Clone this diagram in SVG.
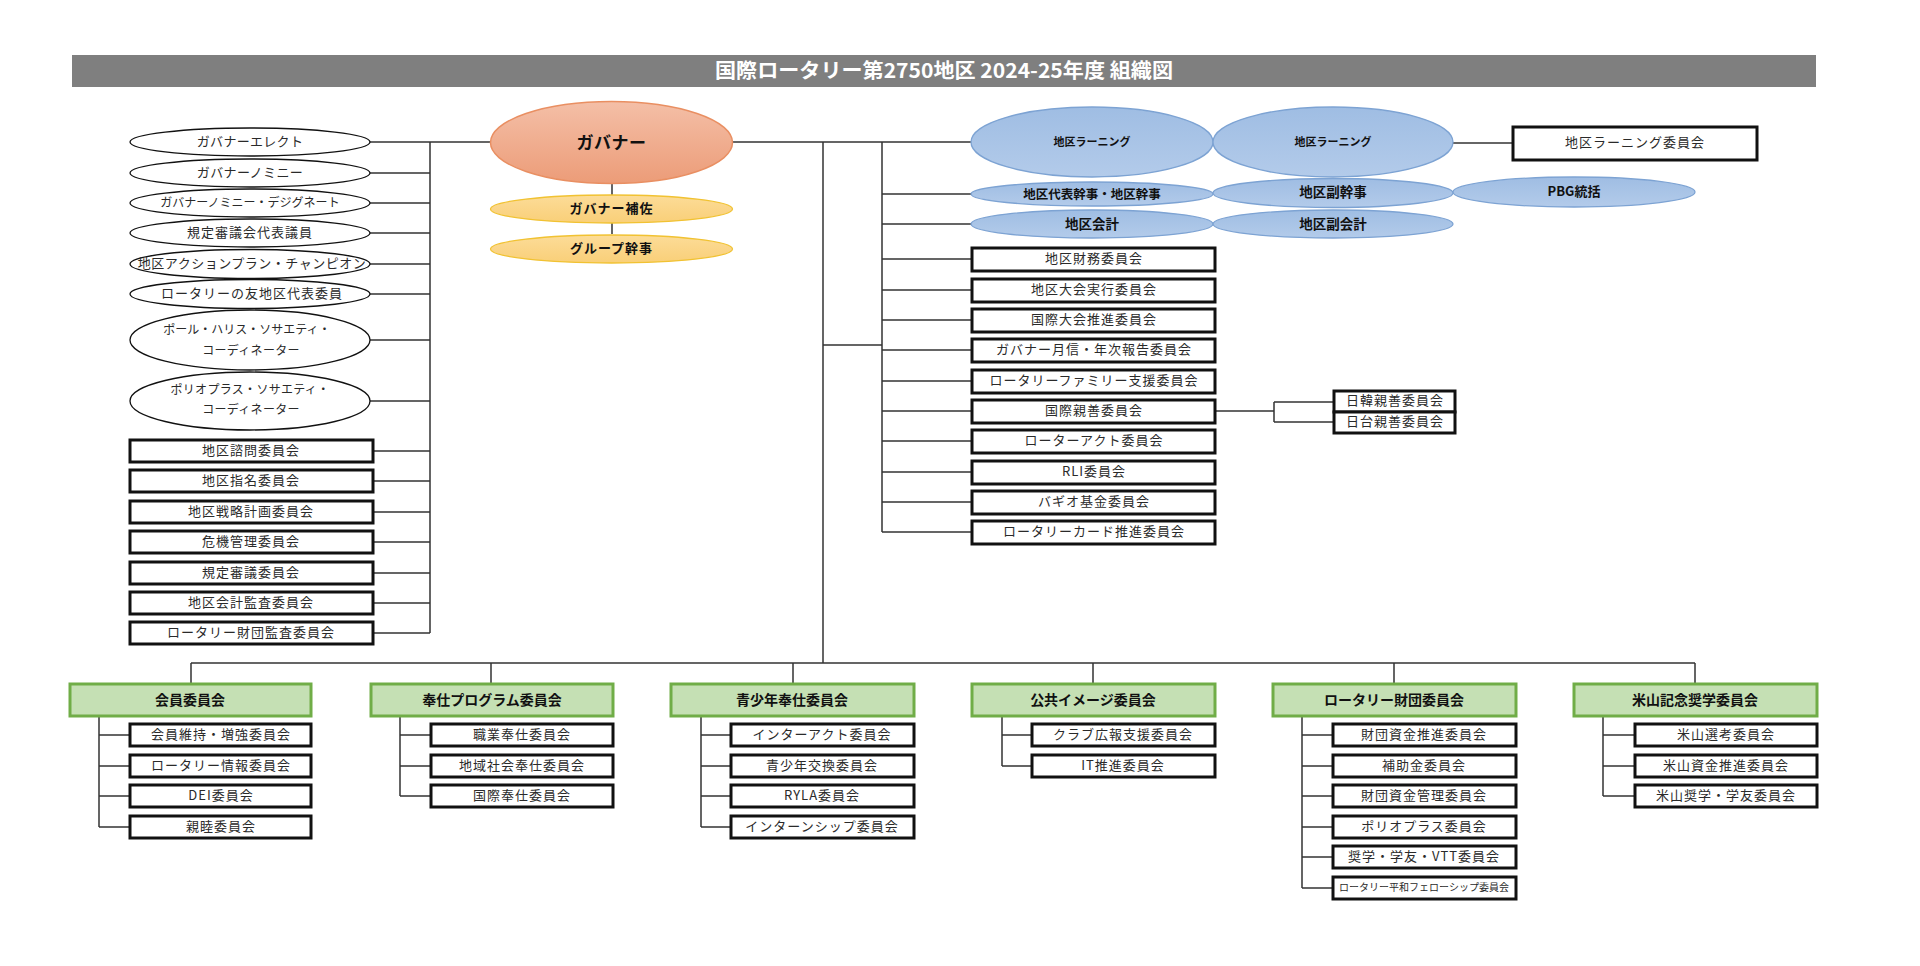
<svg xmlns="http://www.w3.org/2000/svg" width="1920" height="966" viewBox="0 0 1920 966">
<defs>
<linearGradient id="gGov" x1="0" y1="0" x2="0" y2="1"><stop offset="0" stop-color="#F4BFA7"/><stop offset="1" stop-color="#EC9C78"/></linearGradient>
<linearGradient id="gYel" x1="0" y1="0" x2="0" y2="1"><stop offset="0" stop-color="#FCDC98"/><stop offset="1" stop-color="#F9CF78"/></linearGradient>
<linearGradient id="gBlu" x1="0" y1="0" x2="0" y2="1"><stop offset="0" stop-color="#9FBDE3"/><stop offset="1" stop-color="#B3CBEA"/></linearGradient>
<style>
text{font-family:"Noto Sans CJK JP","Noto Sans",sans-serif;text-anchor:middle;dominant-baseline:central;transform:translateY(-1.5px)}
.wl{fill:#fff;stroke:#111;stroke-width:1.3}
.bx{fill:#fff;stroke:#111;stroke-width:3}
.hd{fill:#C5E0B4;stroke:#70AD47;stroke-width:3}
.bl{fill:url(#gBlu);stroke:#7DA3D3;stroke-width:1.3}
.yl{fill:url(#gYel);stroke:#F1C232;stroke-width:1.3}
.t{font-size:13px;letter-spacing:1px;fill:#2a2a2a}
.t12{font-size:12px;fill:#2a2a2a}
.t10{font-size:10px;fill:#2a2a2a}
.b{font-weight:bold;fill:#111}
.cn{fill:none;stroke:#333;stroke-width:1.5}
</style>
</defs>
<rect width="1920" height="966" fill="#fff"/>

<g id="title">
<rect x="72" y="55" width="1744" height="32" fill="#7F7F7F"/>
<text x="944" y="71" font-size="20" font-weight="bold" fill="#fff" textLength="458" lengthAdjust="spacingAndGlyphs">国際ロータリー第2750地区 2024-25年度 組織図</text>
</g>

<g id="connectors" class="cn">
<path d="M370 142H491M430 142V633"/>
<path d="M370 173H430M370 203H430M370 233H430M370 264H430M370 294H430M370 340H430M370 401H430"/>
<path d="M373 451H430M373 481H430M373 512H430M373 542H430M373 573H430M373 603H430M373 633H430"/>
<path d="M612 183V234"/>
<path d="M732 142H972M882 142V532M823 142V663M823 345H882"/>
<path d="M882 194H972M882 224H972M882 259H972M882 290H972M882 320H972M882 350H972M882 381H972M882 411H972M882 441H972M882 472H972M882 502H972M882 532H972"/>
<path d="M1453 143H1513"/>
<path d="M1216 411H1274M1274 402V422M1274 402H1334M1274 422H1334"/>
<path d="M191 663H1695M191 663V684M491 663V684M793 663V684M1093 663V684M1394 663V684M1695 663V684"/>
<path d="M99 716V827M99 735H130M99 766H130M99 796H130M99 827H130"/>
<path d="M400 716V796M400 735H431M400 766H431M400 796H431"/>
<path d="M701 716V827M701 735H731M701 766H731M701 796H731M701 827H731"/>
<path d="M1002 716V766M1002 735H1032M1002 766H1032"/>
<path d="M1302 716V888M1302 735H1333M1302 766H1333M1302 796H1333M1302 827H1333M1302 857H1333M1302 888H1333"/>
<path d="M1603 716V796M1603 735H1635M1603 766H1635M1603 796H1635"/>
</g>

<g id="gov">
<ellipse cx="611.5" cy="142.5" rx="121" ry="41" fill="url(#gGov)" stroke="#E98F62" stroke-width="1.5"/>
<text x="611.5" y="143" font-size="17" class="b" letter-spacing="0.5">ガバナー</text>
</g>
<g id="gov-assist">
<ellipse cx="611.5" cy="209" rx="121" ry="14" class="yl"/>
<text x="611.5" y="209" font-size="13" class="b" letter-spacing="1">ガバナー補佐</text>
</g>
<g id="group-sec">
<ellipse cx="611.5" cy="249" rx="121" ry="14" class="yl"/>
<text x="611.5" y="249" font-size="13" class="b" letter-spacing="1">グループ幹事</text>
</g>

<g id="l-e1"><ellipse cx="250" cy="142" rx="120" ry="14" class="wl"/><text x="250" y="142" class="t" style="letter-spacing:0.3px">ガバナーエレクト</text></g>
<g id="l-e2"><ellipse cx="250" cy="173" rx="120" ry="14" class="wl"/><text x="250" y="173" class="t" style="letter-spacing:0.4px">ガバナーノミニー</text></g>
<g id="l-e3"><ellipse cx="250" cy="203" rx="120" ry="14" class="wl"/><text x="250" y="203" class="t12">ガバナーノミニー・デジグネート</text></g>
<g id="l-e4"><ellipse cx="250" cy="233" rx="120" ry="14" class="wl"/><text x="250" y="233" class="t">規定審議会代表議員</text></g>
<g id="l-e5"><ellipse cx="250" cy="264" rx="120" ry="14.5" class="wl"/><text x="252" y="264" class="t" style="letter-spacing:0.5px">地区アクションプラン・チャンピオン</text></g>
<g id="l-e6"><ellipse cx="250" cy="294" rx="120" ry="14.5" class="wl"/><text x="252" y="294" class="t">ロータリーの友地区代表委員</text></g>
<g id="l-e7"><ellipse cx="250" cy="340" rx="120" ry="30" class="wl"/><text x="247" y="330" class="t12">ポール・ハリス・ソサエティ・</text><text x="251" y="351" class="t12" style="letter-spacing:0.3px">コーディネーター</text></g>
<g id="l-e8"><ellipse cx="250" cy="401" rx="120" ry="29" class="wl"/><text x="250" y="390" class="t12" style="letter-spacing:0.3px">ポリオプラス・ソサエティ・</text><text x="251" y="410" class="t12" style="letter-spacing:0.3px">コーディネーター</text></g>

<g id="l-r1"><rect x="130" y="440" width="243" height="22" class="bx"/><text x="251" y="451" class="t">地区諮問委員会</text></g>
<g id="l-r2"><rect x="130" y="470" width="243" height="22" class="bx"/><text x="251" y="481" class="t">地区指名委員会</text></g>
<g id="l-r3"><rect x="130" y="501" width="243" height="22" class="bx"/><text x="251" y="512" class="t">地区戦略計画委員会</text></g>
<g id="l-r4"><rect x="130" y="531" width="243" height="22" class="bx"/><text x="251" y="542" class="t">危機管理委員会</text></g>
<g id="l-r5"><rect x="130" y="562" width="243" height="22" class="bx"/><text x="251" y="573" class="t">規定審議委員会</text></g>
<g id="l-r6"><rect x="130" y="592" width="243" height="22" class="bx"/><text x="251" y="603" class="t">地区会計監査委員会</text></g>
<g id="l-r7"><rect x="130" y="622" width="243" height="22" class="bx"/><text x="251" y="633" class="t">ロータリー財団監査委員会</text></g>

<g id="r-learn1"><ellipse cx="1092" cy="142" rx="121" ry="35" class="bl"/><text x="1092" y="142" font-size="11" class="b">地区ラーニング</text></g>
<g id="r-learn2"><ellipse cx="1333" cy="142" rx="120" ry="35" class="bl"/><text x="1333" y="142" font-size="11" class="b">地区ラーニング</text></g>
<g id="r-learn-com"><rect x="1513" y="127" width="244" height="33" class="bx"/><text x="1635" y="143" class="t">地区ラーニング委員会</text></g>
<g id="r-sec"><ellipse cx="1092" cy="194" rx="121" ry="12" class="bl"/><text x="1092" y="195" font-size="12.5" class="b">地区代表幹事・地区幹事</text></g>
<g id="r-vsec"><ellipse cx="1333" cy="193" rx="120" ry="14.5" class="bl"/><text x="1333" y="192" font-size="13.5" class="b">地区副幹事</text></g>
<g id="r-pbg"><ellipse cx="1574" cy="192" rx="121" ry="15" class="bl"/><text x="1574" y="192" font-size="13" class="b">PBG統括</text></g>
<g id="r-acc"><ellipse cx="1092" cy="224" rx="121" ry="14" class="bl"/><text x="1092" y="224" font-size="13.5" class="b">地区会計</text></g>
<g id="r-vacc"><ellipse cx="1333" cy="224" rx="120" ry="14" class="bl"/><text x="1333" y="224" font-size="13.5" class="b">地区副会計</text></g>

<g id="r-1"><rect x="972" y="248" width="243" height="23" class="bx"/><text x="1094" y="259" class="t">地区財務委員会</text></g>
<g id="r-2"><rect x="972" y="279" width="243" height="23" class="bx"/><text x="1094" y="290" class="t">地区大会実行委員会</text></g>
<g id="r-3"><rect x="972" y="309" width="243" height="23" class="bx"/><text x="1094" y="320" class="t">国際大会推進委員会</text></g>
<g id="r-4"><rect x="972" y="339" width="243" height="23" class="bx"/><text x="1094" y="350" class="t">ガバナー月信・年次報告委員会</text></g>
<g id="r-5"><rect x="972" y="370" width="243" height="23" class="bx"/><text x="1094" y="381" class="t">ロータリーファミリー支援委員会</text></g>
<g id="r-6"><rect x="972" y="400" width="243" height="23" class="bx"/><text x="1094" y="411" class="t">国際親善委員会</text></g>
<g id="r-7"><rect x="972" y="430" width="243" height="23" class="bx"/><text x="1094" y="441" class="t">ローターアクト委員会</text></g>
<g id="r-8"><rect x="972" y="461" width="243" height="23" class="bx"/><text x="1094" y="472" class="t">RLI委員会</text></g>
<g id="r-9"><rect x="972" y="491" width="243" height="23" class="bx"/><text x="1094" y="502" class="t">バギオ基金委員会</text></g>
<g id="r-10"><rect x="972" y="521" width="243" height="23" class="bx"/><text x="1094" y="532" class="t">ロータリーカード推進委員会</text></g>
<g id="r-jk"><rect x="1334" y="391" width="121" height="21" class="bx"/><text x="1395" y="401" class="t">日韓親善委員会</text></g>
<g id="r-jt"><rect x="1334" y="412" width="121" height="21" class="bx"/><text x="1395" y="422" class="t">日台親善委員会</text></g>

<g id="g1">
<rect x="70" y="684" width="241" height="32" class="hd"/><text x="190" y="700" font-size="14" class="b">会員委員会</text>
<rect x="130" y="724" width="181" height="22" class="bx"/><text x="221" y="735" class="t">会員維持・増強委員会</text>
<rect x="130" y="755" width="181" height="22" class="bx"/><text x="221" y="766" class="t">ロータリー情報委員会</text>
<rect x="130" y="785" width="181" height="22" class="bx"/><text x="221" y="796" class="t">DEI委員会</text>
<rect x="130" y="816" width="181" height="22" class="bx"/><text x="221" y="827" class="t">親睦委員会</text>
</g>
<g id="g2">
<rect x="371" y="684" width="242" height="32" class="hd"/><text x="492" y="700" font-size="14" class="b">奉仕プログラム委員会</text>
<rect x="431" y="724" width="182" height="22" class="bx"/><text x="522" y="735" class="t">職業奉仕委員会</text>
<rect x="431" y="755" width="182" height="22" class="bx"/><text x="522" y="766" class="t">地域社会奉仕委員会</text>
<rect x="431" y="785" width="182" height="22" class="bx"/><text x="522" y="796" class="t">国際奉仕委員会</text>
</g>
<g id="g3">
<rect x="671" y="684" width="243" height="32" class="hd"/><text x="792" y="700" font-size="14" class="b">青少年奉仕委員会</text>
<rect x="731" y="724" width="183" height="22" class="bx"/><text x="822" y="735" class="t">インターアクト委員会</text>
<rect x="731" y="755" width="183" height="22" class="bx"/><text x="822" y="766" class="t">青少年交換委員会</text>
<rect x="731" y="785" width="183" height="22" class="bx"/><text x="822" y="796" class="t">RYLA委員会</text>
<rect x="731" y="816" width="183" height="22" class="bx"/><text x="822" y="827" class="t">インターンシップ委員会</text>
</g>
<g id="g4">
<rect x="972" y="684" width="243" height="32" class="hd"/><text x="1093" y="700" font-size="14" class="b">公共イメージ委員会</text>
<rect x="1032" y="724" width="183" height="22" class="bx"/><text x="1123" y="735" class="t">クラブ広報支援委員会</text>
<rect x="1032" y="755" width="183" height="22" class="bx"/><text x="1123" y="766" class="t">IT推進委員会</text>
</g>
<g id="g5">
<rect x="1273" y="684" width="243" height="32" class="hd"/><text x="1394" y="700" font-size="14" class="b">ロータリー財団委員会</text>
<rect x="1333" y="724" width="183" height="22" class="bx"/><text x="1424" y="735" class="t">財団資金推進委員会</text>
<rect x="1333" y="755" width="183" height="22" class="bx"/><text x="1424" y="766" class="t">補助金委員会</text>
<rect x="1333" y="785" width="183" height="22" class="bx"/><text x="1424" y="796" class="t">財団資金管理委員会</text>
<rect x="1333" y="816" width="183" height="22" class="bx"/><text x="1424" y="827" class="t">ポリオプラス委員会</text>
<rect x="1333" y="846" width="183" height="22" class="bx"/><text x="1424" y="857" class="t">奨学・学友・VTT委員会</text>
<rect x="1333" y="877" width="183" height="22" class="bx"/><text x="1424" y="888" class="t10">ロータリー平和フェローシップ委員会</text>
</g>
<g id="g6">
<rect x="1574" y="684" width="243" height="32" class="hd"/><text x="1695" y="700" font-size="14" class="b">米山記念奨学委員会</text>
<rect x="1635" y="724" width="182" height="22" class="bx"/><text x="1726" y="735" class="t">米山選考委員会</text>
<rect x="1635" y="755" width="182" height="22" class="bx"/><text x="1726" y="766" class="t">米山資金推進委員会</text>
<rect x="1635" y="785" width="182" height="22" class="bx"/><text x="1726" y="796" class="t">米山奨学・学友委員会</text>
</g>
</svg>
